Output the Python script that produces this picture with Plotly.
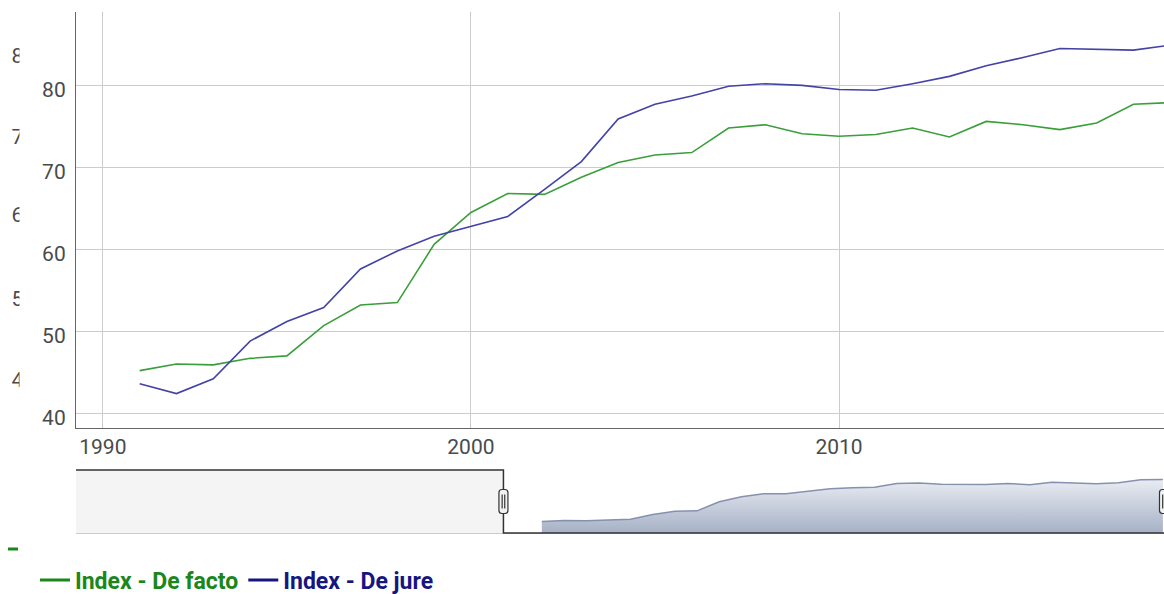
import plotly.graph_objects as go

years = list(range(1991, 2020))
de_facto = [45.2, 46.0, 45.9, 46.7, 47.0, 50.7, 53.2, 53.5, 60.6, 64.5,
            66.8, 66.7, 68.8, 70.6, 71.5, 71.8, 74.8, 75.2, 74.1, 73.8,
            74.0, 74.8, 73.7, 75.6, 75.2, 74.6, 75.4, 77.7, 77.9]
de_jure = [43.6, 42.4, 44.2, 48.8, 51.2, 52.9, 57.6, 59.8, 61.6, 62.8,
           64.0, 67.3, 70.7, 75.9, 77.7, 78.7, 79.9, 80.2, 80.0, 79.5,
           79.4, 80.2, 81.1, 82.4, 83.4, 84.5, 84.4, 84.3, 84.9]
series_names = ["Index - De facto", "Index - De jure"]

# leftover labels of a second (hidden) axis, cut off at the left edge
ghost_ticks = [83.6, 73.8, 64.2, 54.0, 44.1]
ghost_text = ["85", "75", "65", "55", "45"]

W, H = 1164, 594
main_x = [1989.27, 2018.83]
main_y = [38.2, 88.95]
nav_x = [1970.0, 2019.05]
nav_y = [36.3, 85.2]
main_dom = [1 - 428 / H, 1 - 12 / H]
nav_dom = [1 - 533 / H, 1 - 470 / H]

green_line = "#3a9e3a"
blue_line = "#4343a6"
green_text = "#1b871b"
blue_text = "#16167f"
tick_font = dict(family="Roboto", size=21, color="#4a4a4a")


def px_x(p):
    # pixel column -> paper x
    return (p - 76) / (W - 76)


fig = go.Figure()

fig.add_trace(go.Scatter(x=years, y=de_facto, mode="lines", name=series_names[0],
                         line=dict(color=green_line, width=1.6), showlegend=False,
                         xaxis="x", yaxis="y"))
fig.add_trace(go.Scatter(x=years, y=de_jure, mode="lines", name=series_names[1],
                         line=dict(color=blue_line, width=1.6), showlegend=False,
                         xaxis="x", yaxis="y"))

# navigator
fig.add_trace(go.Scatter(x=years, y=de_facto, mode="lines", fill="tozeroy",
                         line=dict(color="#8591ae", width=1.5),
                         fillgradient=dict(type="vertical",
                                           colorscale=[[0, "#a6b1c6"], [1, "#e9ecf2"]],
                                           start=nav_y[0], stop=max(de_facto)),
                         showlegend=False, hoverinfo="skip", xaxis="x2", yaxis="y2"))

# ghost axis holder
fig.add_trace(go.Scatter(x=[None], y=[None], showlegend=False, hoverinfo="skip",
                         xaxis="x", yaxis="y3"))

# legend entries
for name, col in zip(series_names, [green_text, blue_text]):
    fig.add_trace(go.Scatter(x=[None], y=[None], mode="lines",
                             name=f"<span style='color:{col}'>{name}</span>",
                             line=dict(color=col, width=3), xaxis="x", yaxis="y"))

shapes = []
# navigator mask + outline
shapes.append(dict(type="rect", xref="x2", yref="paper", x0=nav_x[0], x1=main_x[0],
                   y0=nav_dom[0], y1=nav_dom[1], fillcolor="#f4f4f4",
                   line=dict(width=0), layer="below"))
shapes.append(dict(type="path", xref="x2", yref="paper",
                   path=f"M {nav_x[0]},{nav_dom[1]} L {main_x[0]},{nav_dom[1]} "
                        f"L {main_x[0]},{nav_dom[0]} L {nav_x[1]},{nav_dom[0]}",
                   line=dict(color="#333333", width=1.5)))
handle = ("M -4.5,-9 Q -4.5,-12 -1.5,-12 L 1.5,-12 Q 4.5,-12 4.5,-9 L 4.5,9 "
          "Q 4.5,12 1.5,12 L -1.5,12 Q -4.5,12 -4.5,9 Z")
grip = "M -1.3,-7 L -1.3,7 M 1.3,-7 L 1.3,7"
for hx in [main_x[0], nav_x[1]]:
    for p, fc in [(handle, "#f2f2f2"), (grip, None)]:
        shapes.append(dict(type="path", xref="x2", yref="paper",
                           xsizemode="pixel", ysizemode="pixel",
                           xanchor=hx, yanchor=sum(nav_dom) / 2, path=p,
                           fillcolor=fc, line=dict(color="#333333", width=1.2)))
# cover that cuts the ghost labels
shapes.append(dict(type="rect", xref="paper", yref="paper", x0=px_x(19.5), x1=px_x(42),
                   y0=main_dom[0] - 0.02, y1=1, fillcolor="white",
                   line=dict(width=0), layer="above"))
# stray legend dash bottom left
shapes.append(dict(type="line", xref="paper", yref="paper", x0=px_x(8), x1=px_x(18),
                   y0=1 - 549 / H, y1=1 - 549 / H, line=dict(color=green_text, width=3)))

fig.update_layout(
    width=W, height=H,
    margin=dict(l=76, r=0, t=0, b=0, autoexpand=False),
    plot_bgcolor="white", paper_bgcolor="white",
    xaxis=dict(domain=[0, 1], anchor="y", range=main_x, tick0=1990, dtick=10,
               showgrid=True, gridcolor="#cccccc", gridwidth=1, zeroline=False,
               showline=True, linecolor="#666666", linewidth=1.2, ticks="",
               tickfont=tick_font, ticklabelstandoff=0),
    yaxis=dict(domain=main_dom, anchor="x", range=main_y, tick0=0, dtick=10,
               showgrid=True, gridcolor="#cccccc", gridwidth=1, zeroline=False,
               showline=True, linecolor="#666666", linewidth=1.2, ticks="",
               tickfont=tick_font, ticklabelstandoff=5, ticklabelshift=4),
    yaxis3=dict(overlaying="y", anchor="free", position=0, side="left",
                range=main_y, tickvals=ghost_ticks, ticktext=ghost_text,
                showgrid=False, zeroline=False, showline=False, ticks="",
                tickfont=tick_font, ticklabelstandoff=41),
    xaxis2=dict(domain=[0, 1], anchor="y2", range=nav_x, showgrid=False,
                zeroline=False, showticklabels=False, showline=True,
                linecolor="#cccccc", linewidth=1, ticks=""),
    yaxis2=dict(domain=nav_dom, anchor="x2", range=nav_y, showgrid=False,
                zeroline=False, showticklabels=False, showline=False, ticks=""),
    legend=dict(orientation="h", x=px_x(35), xanchor="left", y=1 - 580 / H,
                yanchor="middle", bgcolor="rgba(0,0,0,0)", itemwidth=30,
                font=dict(family="Roboto", size=23, weight="bold")),
    shapes=shapes,
    hovermode=False,
)

# the page's default body margin would push the chart 8px right and down
fig.write_html("out.html", post_script="document.body.style.margin='0';",
               config=dict(displayModeBar=False))
